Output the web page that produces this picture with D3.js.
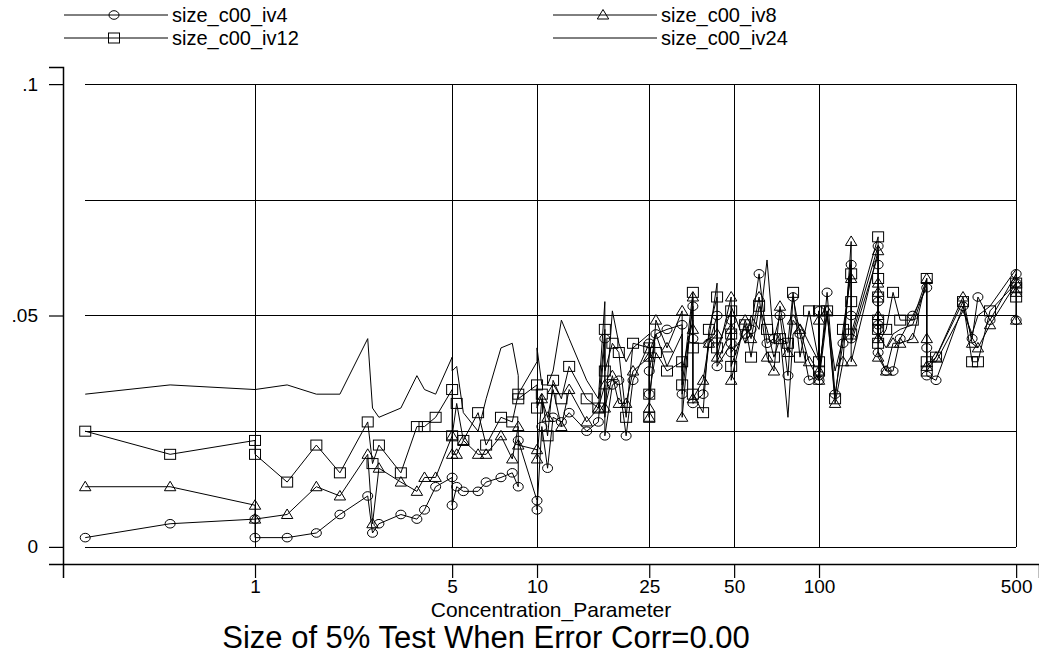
<!DOCTYPE html>
<html lang="en">
  <head>
    <meta charset="UTF-8" />
    <title>Size of 5% Test When Error Corr=0.00</title>
    <script src="https://d3js.org/d3.v7.min.js"></script>
    <style>
      body { margin: 0; background: #fff; }
      text { font-family: "Liberation Sans", Arial, sans-serif; fill: #000; }
      .series { fill: none; stroke: #000; stroke-width: 1px; }
      .marker { fill: none; stroke: #000; stroke-width: 1px; }
      .grid line { stroke: #000; stroke-width: 1px; shape-rendering: crispEdges; }
    </style>
  </head>
  <body>
    <svg id="chart" width="1039" height="658"></svg>
    <script>
      // values
      const concParam = [0.25, 0.5, 1, 1, 1.3, 1.65, 2, 2.51, 2.61, 2.75,
        3.29, 3.75, 3.99, 4.37, 5, 5, 5.19, 5.48, 6.18, 6.6,
        7.45, 8.17, 8.58, 8.58, 10, 10, 10.4, 10.9, 11.4, 12.2,
        13, 15, 16.5, 17.4, 17.4, 18.5, 19.5, 20.7, 21.9, 25,
        25, 25, 26.4, 28.9, 32.7, 32.7, 35.7,
        35.7,
        35.7, 38.8, 40.7, 43.5, 43.5, 48.8,
        48.8,
        48.8, 54.7, 57.4, 61.3, 65.4, 69.2, 72.7, 77.6, 80.9, 85.6, 92.2, 100,
        100,
        100, 106.8, 114, 121.6, 130,
        130,
        130, 162, 162,
        162, 162,
        162, 162, 173, 183, 194, 215, 241,
        241,
        241, 260, 324, 349, 366, 404, 500,
        500,
        500];

      const iv4 = [.002, .005, .006, .002, .002, .003, .007, .011, .003, .005,
        .007, .006, .008, .013, .015, .009, .013, .012, .012, .014,
        .015, .016, .013, .023, .010, .008, .026, .017, .028, .027,
        .029, .025, .027, .045, .024, .035, .036, .024, .036, .044,
        .033, .038, .046, .047, .048, .033, .052,
        .045,
        .031, .033, .044, .050, .039, .044,
        .049,
        .042, .046, .047, .059, .044, .045, .050, .037, .054, .046, .036, .037,
        .051,
        .036, .055, .033, .044, .061,
        .050,
        .045, .065, .061,
        .053, .047,
        .048, .042, .038, .038, .045, .050, .056,
        .043,
        .037, .036, .052, .045, .054, .049, .059,
        .057,
        .049];

      const iv8 = [.013, .013, .009, .006, .007, .013, .011, .020, .005, .017,
        .014, .012, .015, .015, .024, .020, .020, .023, .020, .020,
        .024, .019, .026, .022, .021, .019, .032, .028, .034, .026,
        .034, .027, .030, .035, .030, .037, .031, .031, .038, .041,
        .028, .030, .049, .043, .051, .028, .054,
        .047,
        .032, .036, .044, .046, .041, .054,
        .047,
        .036, .049, .045, .054, .041, .038, .052, .042, .049, .047, .040, .036,
        .049,
        .038, .051, .031, .040, .066,
        .058,
        .040, .064, .057,
        .055, .045,
        .050, .041, .038, .044, .044, .045, .058,
        .045,
        .039, .041, .054, .044, .043, .048, .057,
        .055,
        .049];

      const iv12 = [.025, .020, .023, .020, .014, .022, .016, .027, .018, .022,
        .016, .026, .026, .028, .034, .024, .031, .023, .029, .022,
        .028, .027, .033, .032, .035, .030, .033, .024, .036, .032,
        .039, .032, .030, .047, .038, .044, .042, .028, .044, .043,
        .028, .033, .042, .038, .040, .035, .055,
        .043,
        .033, .029, .047, .054, .043, .051,
        .046,
        .039, .048, .041, .052, .047, .041, .045, .044, .055, .041, .051, .040,
        .051,
        .038, .051, .032, .047, .059,
        .053,
        .046, .067, .058,
        .047, .049,
        .054, .044, .047, .055, .049, .049, .058,
        .040,
        .038, .041, .053, .040, .040, .051, .057,
        .056,
        .054];

      const iv24 = [.033, .035, .034, .034, .035, .033, .033, .045, .030, .028,
        .030, .037, .034, .033, .041, .038, .039, .029, .025, .032,
        .043, .044, .037, .033, .040, .043, .035, .035, .038, .049,
        .045, .036, .032, .053, .028, .051, .044, .040, .043, .046,
        .040, .042, .046, .039, .046, .038, .049,
        .046,
        .044, .044, .045, .057, .040, .047,
        .045,
        .052, .044, .050, .047, .062, .044, .046, .028, .046, .048, .044, .040,
        .046,
        .036, .050, .038, .045, .062,
        .050,
        .044, .063, .055,
        .052, .047,
        .049, .046, .043, .046, .047, .048, .057,
        .044,
        .040, .040, .051, .046, .050, .052, .060,
        .058,
        .056];

      const seriesNames = ["size_c00_iv4", "size_c00_iv8", "size_c00_iv12", "size_c00_iv24"];
      const seriesMarks = ["circle", "triangle", "square", "none"];
      const xTicks = [1, 5, 10, 25, 50, 100, 500];
      const yTicks = [0, 0.05, 0.1];
      const yTickLabels = ["0", ".05", ".1"];
      const yGrid = [0, 0.025, 0.05, 0.075, 0.1];

      const svg = d3.select("#chart");

      const x = d3.scaleLog().domain([0.2085, 602.6]).range([63, 1039]);
      const y = d3.scaleLinear().domain([-0.0037, 0.1037]).range([564, 67]);

      const xLo = x(concParam[0]),
        xHi = x(concParam[concParam.length - 1]);

      // grid
      const grid = svg.append("g").attr("class", "grid");
      grid
        .selectAll(".hg")
        .data(yGrid)
        .join("line")
        .attr("x1", xLo)
        .attr("x2", xHi)
        .attr("y1", (d) => Math.round(y(d)) + 0.5)
        .attr("y2", (d) => Math.round(y(d)) + 0.5);
      grid
        .selectAll(".vg")
        .data(xTicks)
        .join("line")
        .attr("x1", (d) => Math.round(x(d)) + 0.5)
        .attr("x2", (d) => Math.round(x(d)) + 0.5)
        .attr("y1", y(0.1))
        .attr("y2", y(0));

      // axes
      const xAxis = svg
        .append("g")
        .attr("transform", "translate(0,564)")
        .call(
          d3.axisBottom(x).tickValues(xTicks).tickFormat(d3.format("d"))
            .tickSize(14).tickPadding(2)
        );
      const yAxis = svg
        .append("g")
        .attr("transform", "translate(63,0)")
        .call(
          d3.axisLeft(y).tickValues(yTicks).tickFormat((d, i) => yTickLabels[i])
            .tickSize(14).tickPadding(11)
        );
      [xAxis, yAxis].forEach((g) => {
        g.select(".domain").attr("stroke", "#000").attr("stroke-width", 1.5);
        g.selectAll(".tick line").attr("stroke", "#000").attr("stroke-width", 1.2);
        g.selectAll("text")
          .style("font-family", '"Liberation Sans", Arial, sans-serif')
          .style("font-size", "19px")
          .attr("fill", "#000");
      });

      // markers
      const drawMark = (g, type, cx, cy) => {
        if (type === "circle") {
          g.append("ellipse").attr("class", "marker")
            .attr("cx", cx).attr("cy", cy).attr("rx", 5).attr("ry", 4.3);
        } else if (type === "square") {
          g.append("rect").attr("class", "marker")
            .attr("x", cx - 5.5).attr("y", cy - 5).attr("width", 11).attr("height", 10);
        } else if (type === "triangle") {
          g.append("path").attr("class", "marker")
            .attr("d", `M${cx},${cy - 5.5}L${cx + 5.7},${cy + 4}L${cx - 5.7},${cy + 4}Z`);
        }
      };

      const allSeries = [iv4, iv8, iv12, iv24];
      const line = d3.line()
        .x((d, i) => x(concParam[i]))
        .y((d) => y(d));

      allSeries.forEach((vals, k) => {
        const g = svg.append("g");
        g.append("path").datum(vals).attr("class", "series").attr("d", line);
        vals.forEach((v, i) => drawMark(g, seriesMarks[k], x(concParam[i]), y(v)));
      });

      // legend
      const legendPos = [[64, 15], [553, 15], [64, 38], [553, 38]];
      seriesNames.forEach((name, k) => {
        const [lx, ly] = legendPos[k];
        const g = svg.append("g");
        g.append("line").attr("x1", lx).attr("x2", lx + 104)
          .attr("y1", ly).attr("y2", ly).attr("stroke", "#000");
        drawMark(g, seriesMarks[k], lx + 50, ly);
        g.append("text").attr("x", lx + 108).attr("y", ly + 7)
          .style("font-size", "20px").text(name);
      });

      // titles
      svg.append("text").attr("x", 551).attr("y", 617)
        .attr("text-anchor", "middle").style("font-size", "21px")
        .text("Concentration_Parameter");
      svg.append("text").attr("x", 486).attr("y", 648)
        .attr("text-anchor", "middle").style("font-size", "31px")
        .text("Size of 5% Test When Error Corr=0.00");
    </script>
  </body>
</html>
